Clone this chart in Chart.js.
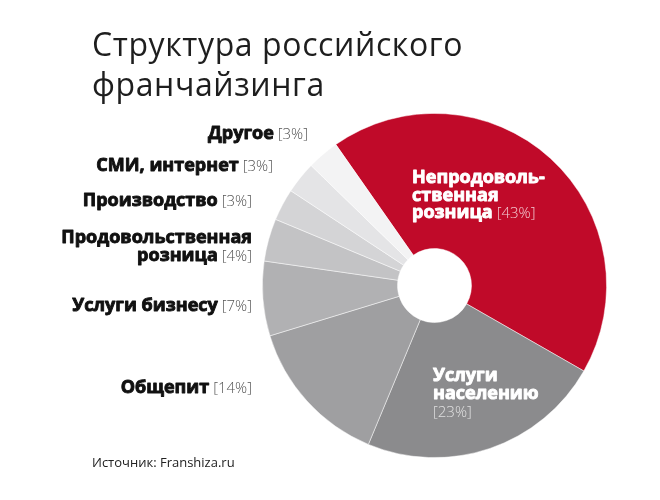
<!DOCTYPE html>
<html>
<head>
<meta charset="utf-8">
<script src="https://cdn.jsdelivr.net/npm/chart.js@4.4.1/dist/chart.umd.min.js"></script>
<style>
  html, body { margin: 0; padding: 0; background: #ffffff; }
  #wrap { position: relative; width: 660px; height: 500px; }
  canvas { position: absolute; left: 0; top: 0; }
</style>
</head>
<body>
<div id="wrap"><canvas id="c" width="660" height="500"></canvas></div>
<script>
const titleLines = ['Структура российского', 'франчайзинга'];
const sourceText = 'Источник: Franshiza.ru';
const categories = ['Непродовольственная розница', 'Услуги населению', 'Общепит', 'Услуги бизнесу', 'Продовольственная розница', 'Производство', 'СМИ, интернет', 'Другое'];
const values = [43, 23, 14, 7, 4, 3, 3, 3];
const sliceColors = ['#c00a29', '#8b8b8d', '#9f9fa1', '#b1b1b3', '#c3c3c5', '#d4d4d6', '#e4e4e6', '#f3f3f4'];

// label layout: lines of the name, anchor and alignment
const labelLayout = [
  { lines: ['Непродоволь-', 'ственная', 'розница'], x: 412, y: 183, align: 'left', inside: true, pctInline: true },
  { lines: ['Услуги', 'населению'], x: 433, y: 381, align: 'left', inside: true, pctInline: false },
  { lines: ['Общепит'], x: 252, y: 393, align: 'right' },
  { lines: ['Услуги бизнесу'], x: 252, y: 311, align: 'right' },
  { lines: ['Продовольственная', 'розница'], x: 252, y: 243, align: 'right' },
  { lines: ['Производство'], x: 252, y: 206, align: 'right' },
  { lines: ['СМИ, интернет'], x: 273, y: 171, align: 'right' },
  { lines: ['Другое'], x: 308, y: 139, align: 'right' }
];

const BOLD = '700 18px "Open Sans", "DejaVu Sans", sans-serif';
const LIGHT = '300 15px "Open Sans", "DejaVu Sans", sans-serif';
const LH = 17.5;

function boldText(ctx, s, x, y, color) {
  ctx.font = BOLD;
  ctx.fillStyle = color;
  ctx.strokeStyle = color;
  ctx.lineWidth = 0.9;
  ctx.lineJoin = 'round';
  ctx.fillText(s, x, y);
  ctx.strokeText(s, x, y);
}

const labelsPlugin = {
  id: 'labelsPlugin',
  afterDraw(chart) {
    const ctx = chart.ctx;
    ctx.save();
    // title
    ctx.fillStyle = '#1e1e1e';
    ctx.font = '400 32px "Open Sans", sans-serif';
    ctx.letterSpacing = '0.6px';
    ctx.textAlign = 'left';
    ctx.textBaseline = 'alphabetic';
    ctx.fillText(titleLines[0], 92, 56);
    ctx.fillText(titleLines[1], 92, 96);
    ctx.letterSpacing = '0px';
    // source
    ctx.font = '400 13px "Open Sans", sans-serif';
    ctx.fillStyle = '#222';
    ctx.fillText(sourceText, 92, 467);

    labelLayout.forEach((L, i) => {
      const pct = '[' + values[i] + '%]';
      const nameColor = L.inside ? '#ffffff' : '#111111';
      const pctColor = L.inside ? (i === 0 ? '#f2c9d0' : '#e0e0e0') : '#555555';
      ctx.textBaseline = 'alphabetic';
      if (L.align === 'right') {
        L.lines.forEach((ln, k) => {
          const y = L.y + k * LH;
          const last = k === L.lines.length - 1;
          let x = L.x;
          ctx.textAlign = 'right';
          if (last) {
            ctx.font = LIGHT;
            ctx.fillStyle = pctColor;
            ctx.fillText(pct, x, y);
            x -= ctx.measureText(pct).width + 4;
          }
          boldText(ctx, ln, x, y, nameColor);
        });
      } else {
        ctx.textAlign = 'left';
        L.lines.forEach((ln, k) => {
          const y = L.y + k * LH;
          boldText(ctx, ln, L.x, y, nameColor);
          if (k === L.lines.length - 1 && L.pctInline) {
            const w = ctx.measureText(ln).width + 4;
            ctx.font = LIGHT;
            ctx.fillStyle = pctColor;
            ctx.fillText(pct, L.x + w, y);
          }
        });
        if (!L.pctInline) {
          ctx.font = LIGHT;
          ctx.fillStyle = pctColor;
          ctx.fillText(pct, L.x, L.y + L.lines.length * LH + 1);
        }
      }
    });
    ctx.restore();
  }
};

new Chart(document.getElementById('c'), {
  type: 'doughnut',
  data: {
    labels: categories,
    datasets: [{
      data: values,
      backgroundColor: sliceColors,
      borderColor: 'rgba(255,255,255,0.6)',
      borderWidth: 0.8,
      hoverOffset: 0
    }]
  },
  options: {
    responsive: false,
    animation: false,
    rotation: -35,
    cutout: '21.5%',
    layout: { padding: { left: 262, right: 53, top: 113, bottom: 42 } },
    plugins: { legend: { display: false }, tooltip: { enabled: false }, title: { display: false } },
    events: []
  },
  plugins: [labelsPlugin]
});
</script>
</body>
</html>
